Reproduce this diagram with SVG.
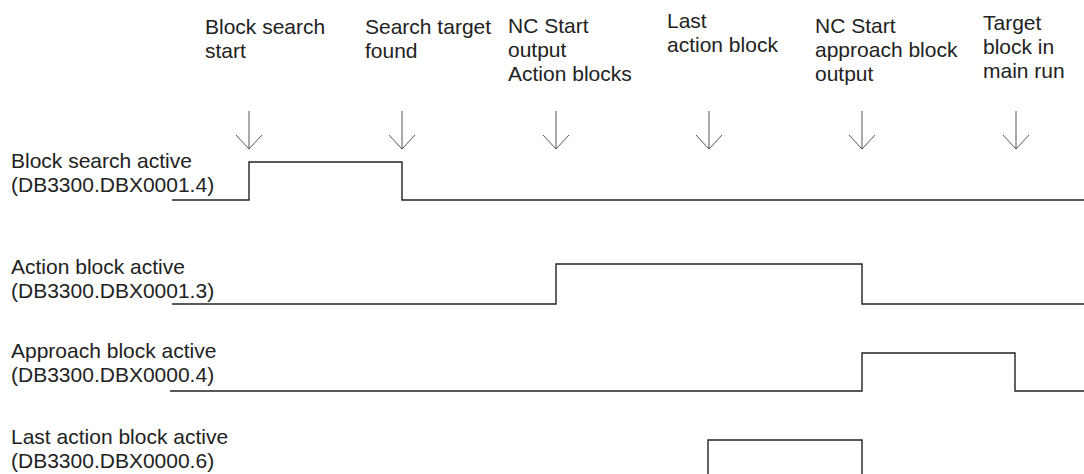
<svg xmlns="http://www.w3.org/2000/svg" width="1084" height="474" viewBox="0 0 1084 474">
<style>
text{font-family:"Liberation Sans",Arial,sans-serif;font-size:21px;fill:#222}
.sig{fill:none;stroke:#222;stroke-width:1.4}
.arr{fill:none;stroke:#555;stroke-width:1}
</style>
<defs>
<g id="arrow"><path class="arr" d="M0,111 V149 M-13,135 L0,149 L13,135"/></g>
</defs>
<rect width="1084" height="474" fill="#fff"/>
<g id="events">
<g id="ev1"><text x="205" y="34">Block search</text><text x="205" y="58">start</text></g>
<g id="ev2"><text x="365" y="34">Search target</text><text x="365" y="58">found</text></g>
<g id="ev3"><text x="508" y="33">NC Start</text><text x="508" y="57">output</text><text x="508" y="81">Action blocks</text></g>
<g id="ev4"><text x="667" y="28">Last</text><text x="667" y="52">action block</text></g>
<g id="ev5"><text x="815" y="33">NC Start</text><text x="815" y="57">approach block</text><text x="815" y="81">output</text></g>
<g id="ev6"><text x="983" y="30">Target</text><text x="983" y="54">block in</text><text x="983" y="78">main run</text></g>
</g>
<g id="signals">
<g id="sig1"><text x="11" y="168">Block search active</text><text x="11" y="192">(DB3300.DBX0001.4)</text></g>
<g id="sig2"><text x="11" y="274">Action block active</text><text x="11" y="298">(DB3300.DBX0001.3)</text></g>
<g id="sig3"><text x="11" y="358">Approach block active</text><text x="11" y="382">(DB3300.DBX0000.4)</text></g>
<g id="sig4"><text x="11" y="444">Last action block active</text><text x="11" y="468">(DB3300.DBX0000.6)</text></g>
</g>
<g id="connectors">
<use href="#arrow" x="249"/>
<use href="#arrow" x="402"/>
<use href="#arrow" x="556"/>
<use href="#arrow" x="709"/>
<use href="#arrow" x="862"/>
<use href="#arrow" x="1016"/>
<path class="sig" d="M172,200 H249 V162 H402 V200 H1084"/>
<path class="sig" d="M172,304 H556 V264 H862 V304 H1084"/>
<path class="sig" d="M170,391 H862 V353 H1015 V391 H1084"/>
<path class="sig" d="M708,480 V440 H862 V480"/>
</g>
</svg>
